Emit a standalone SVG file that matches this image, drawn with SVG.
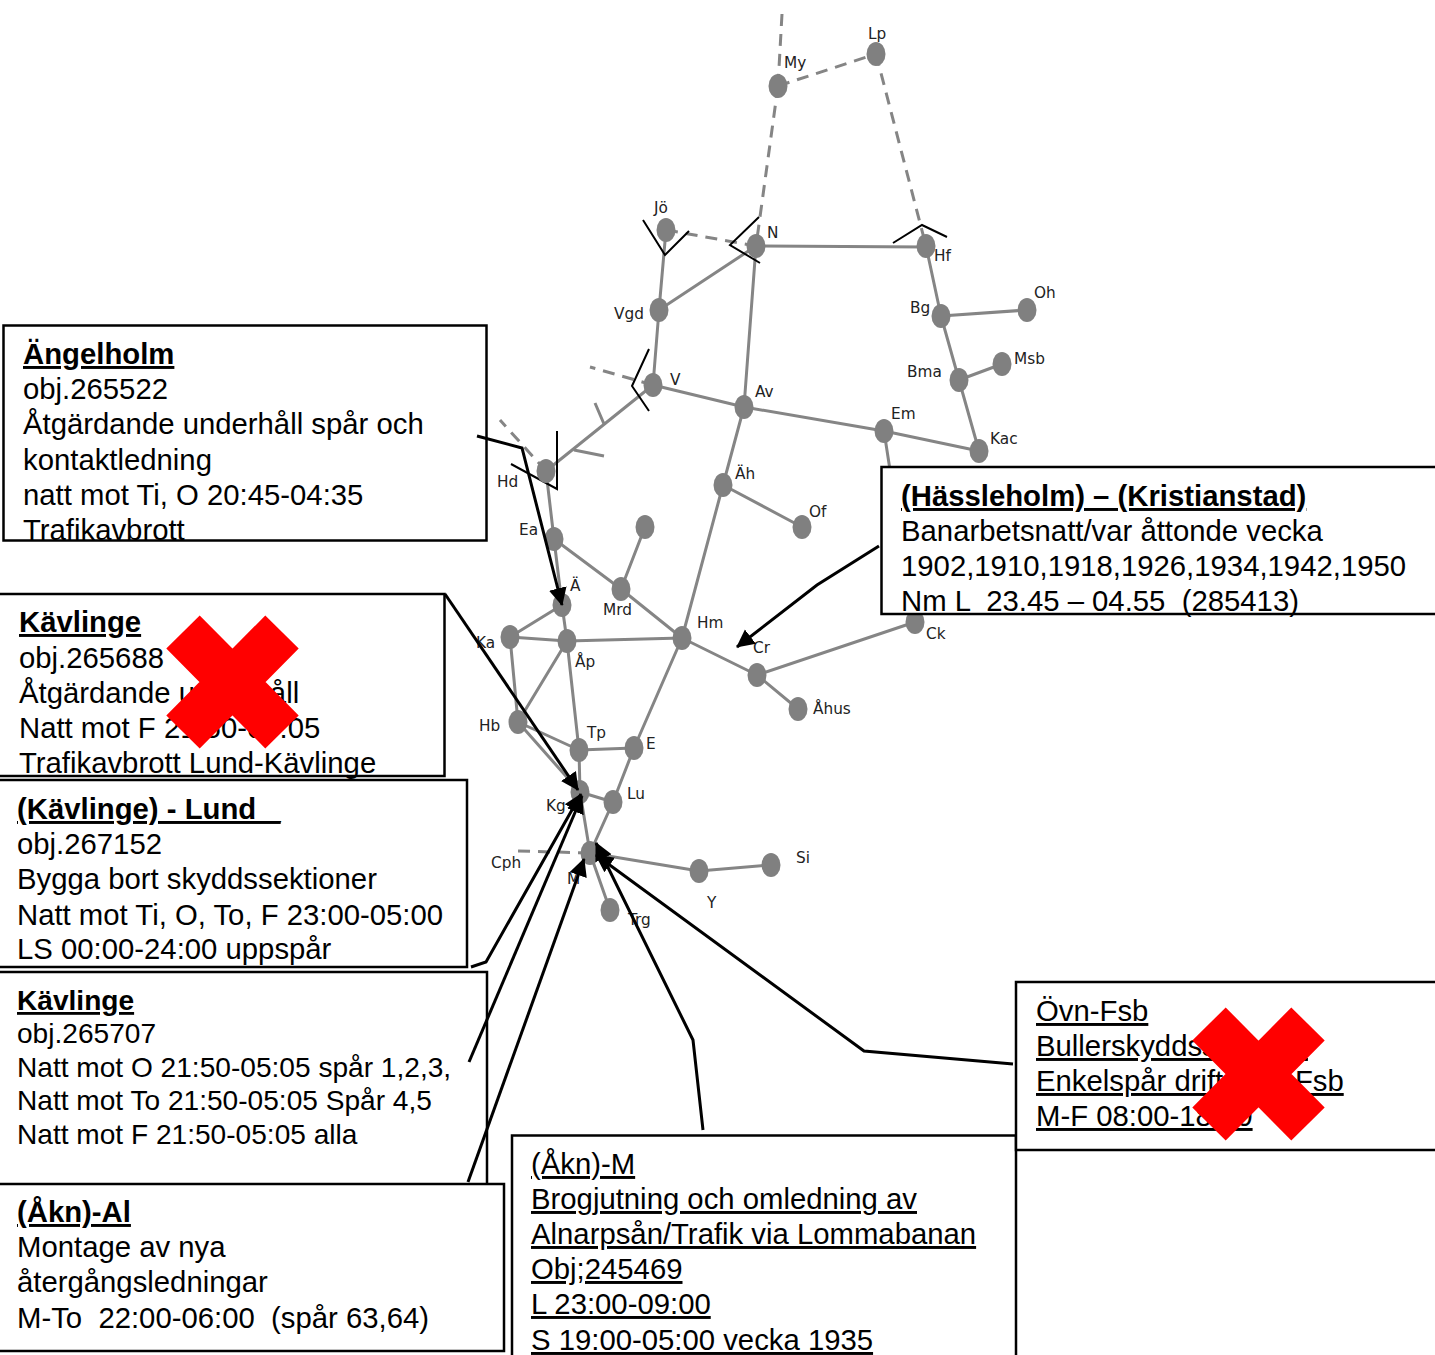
<svg xmlns="http://www.w3.org/2000/svg" width="1435" height="1355" viewBox="0 0 1435 1355">
<style>
.e{stroke:#858585;stroke-width:3;fill:none}
.d{stroke:#858585;stroke-width:3;fill:none;stroke-dasharray:12 8}
.k{stroke:#000;stroke-width:2;fill:none}
.a{stroke:#000;stroke-width:3;fill:none;marker-end:url(#ah)}
.n{fill:#808080}
.l{font:15.300px "DejaVu Sans",sans-serif;fill:#222}
.b{fill:#fff;stroke:#000;stroke-width:2.500}
.t{font:29.300px "Liberation Sans",Arial,sans-serif;fill:#000;white-space:pre}
.s{font-size:28.100px}
.h{font-weight:bold;text-decoration:underline}
.u{text-decoration:underline}
.x{stroke:#f00;stroke-width:47;fill:none}
</style>
<defs><marker id="ah" markerUnits="userSpaceOnUse" markerWidth="22" markerHeight="22" refX="17" refY="10" orient="auto"><path d="M0 1L18 10L0 19z" fill="#000"/></marker></defs>
<rect width="1435" height="1355" fill="#fff"/>
<g id="connectors">
<path class="d" d="M782 14L778 86M778 86L876 54M778 86L756 246M876 54L926 246M666 230L756 246M653 385L590 367M546 471L500 420M590 853L517 851"/>
<path class="e" d="M756 246L926 247M666 230L659 310M659 310L756 246M756 246L744 407M926 246L941 316M941 316L1027 310M941 316L959 380M959 380L1002 364M959 380L979 451M653 385L744 407M744 407L884 431M884 431L979 451M884 431L890 470M653 385L546 471M653 385L659 310M595 403L604 424M574 450L604 456M744 407L723 485M723 485L802 527M723 485L682 638M546 471L554 539M554 539L562 605M554 539L621 589M621 589L645 527M621 589L682 638M562 605L510 637M562 605L567 641M510 637L567 641M567 641L682 638M510 637L518 722M567 641L518 722M567 641L579 750M682 638L757 675M757 675L798 709M757 675L915 622M682 638L634 748M518 722L579 750M518 722L580 792M579 750L634 748M579 750L580 792M634 748L613 802M580 792L613 802M580 792L590 853M613 802L590 853M590 853L699 871M699 871L771 865M590 853L610 910"/>
<path class="k" d="M643 220L665 255L689 231M759 217L730 245L760 263M893 243L922 225L947 237M649 349L632 386L649 411M557 431L557 489L511 464"/>
</g>
<g id="nodes">
<g id="n-My"><ellipse class="n" cx="778" cy="86" rx="9.500" ry="12"/><text class="l" x="784" y="68">My</text></g>
<g id="n-Lp"><ellipse class="n" cx="876" cy="54" rx="9.500" ry="12"/><text class="l" x="868" y="39">Lp</text></g>
<g id="n-Jo"><ellipse class="n" cx="666" cy="230" rx="9.500" ry="12"/><text class="l" x="654" y="213">Jö</text></g>
<g id="n-N"><ellipse class="n" cx="756" cy="246" rx="9.500" ry="12"/><text class="l" x="767" y="238">N</text></g>
<g id="n-Hf"><ellipse class="n" cx="926" cy="246" rx="9.500" ry="12"/><text class="l" x="934" y="261">Hf</text></g>
<g id="n-Vgd"><ellipse class="n" cx="659" cy="310" rx="9.500" ry="12"/><text class="l" x="614" y="319">Vgd</text></g>
<g id="n-Bg"><ellipse class="n" cx="941" cy="316" rx="9.500" ry="12"/><text class="l" x="910" y="313">Bg</text></g>
<g id="n-Oh"><ellipse class="n" cx="1027" cy="310" rx="9.500" ry="12"/><text class="l" x="1034" y="298">Oh</text></g>
<g id="n-Msb"><ellipse class="n" cx="1002" cy="364" rx="9.500" ry="12"/><text class="l" x="1014" y="364">Msb</text></g>
<g id="n-Bma"><ellipse class="n" cx="959" cy="380" rx="9.500" ry="12"/><text class="l" x="907" y="377">Bma</text></g>
<g id="n-V"><ellipse class="n" cx="653" cy="385" rx="9.500" ry="12"/><text class="l" x="670" y="385">V</text></g>
<g id="n-Av"><ellipse class="n" cx="744" cy="407" rx="9.500" ry="12"/><text class="l" x="755" y="397">Av</text></g>
<g id="n-Em"><ellipse class="n" cx="884" cy="431" rx="9.500" ry="12"/><text class="l" x="891" y="419">Em</text></g>
<g id="n-Kac"><ellipse class="n" cx="979" cy="451" rx="9.500" ry="12"/><text class="l" x="990" y="444">Kac</text></g>
<g id="n-Hd"><ellipse class="n" cx="546" cy="471" rx="9.500" ry="12"/><text class="l" x="497" y="487">Hd</text></g>
<g id="n-Ah"><ellipse class="n" cx="723" cy="485" rx="9.500" ry="12"/><text class="l" x="735" y="479">Äh</text></g>
<g id="n-Of"><ellipse class="n" cx="802" cy="527" rx="9.500" ry="12"/><text class="l" x="809" y="517">Of</text></g>
<g id="n-Ea"><ellipse class="n" cx="554" cy="539" rx="9.500" ry="12"/><text class="l" x="519" y="535">Ea</text></g>
<g id="n-x"><ellipse class="n" cx="645" cy="527" rx="9.500" ry="12"/></g>
<g id="n-Mrd"><ellipse class="n" cx="621" cy="589" rx="9.500" ry="12"/><text class="l" x="603" y="615">Mrd</text></g>
<g id="n-A"><ellipse class="n" cx="562" cy="605" rx="9.500" ry="12"/><text class="l" x="570" y="591">Ä</text></g>
<g id="n-Ka"><ellipse class="n" cx="510" cy="637" rx="9.500" ry="12"/><text class="l" x="476" y="648">Ka</text></g>
<g id="n-Ap"><ellipse class="n" cx="567" cy="641" rx="9.500" ry="12"/><text class="l" x="575" y="667">Åp</text></g>
<g id="n-Hm"><ellipse class="n" cx="682" cy="638" rx="9.500" ry="12"/><text class="l" x="697" y="628">Hm</text></g>
<g id="n-Cr"><ellipse class="n" cx="757" cy="675" rx="9.500" ry="12"/><text class="l" x="753" y="653">Cr</text></g>
<g id="n-Ck"><ellipse class="n" cx="915" cy="622" rx="9.500" ry="12"/><text class="l" x="926" y="639">Ck</text></g>
<g id="n-Ahus"><ellipse class="n" cx="798" cy="709" rx="9.500" ry="12"/><text class="l" x="813" y="714">Åhus</text></g>
<g id="n-Hb"><ellipse class="n" cx="518" cy="722" rx="9.500" ry="12"/><text class="l" x="479" y="731">Hb</text></g>
<g id="n-Tp"><ellipse class="n" cx="579" cy="750" rx="9.500" ry="12"/><text class="l" x="587" y="738">Tp</text></g>
<g id="n-E"><ellipse class="n" cx="634" cy="748" rx="9.500" ry="12"/><text class="l" x="646" y="749">E</text></g>
<g id="n-Kg"><ellipse class="n" cx="580" cy="792" rx="9.500" ry="12"/><text class="l" x="546" y="811">Kg</text></g>
<g id="n-Lu"><ellipse class="n" cx="613" cy="802" rx="9.500" ry="12"/><text class="l" x="627" y="799">Lu</text></g>
<g id="n-M"><ellipse class="n" cx="590" cy="853" rx="9.500" ry="12"/><text class="l" x="567" y="884">M</text></g>
<g id="n-Cph"><text class="l" x="491" y="868">Cph</text></g>
<g id="n-Y"><ellipse class="n" cx="699" cy="871" rx="9.500" ry="12"/><text class="l" x="707" y="908">Y</text></g>
<g id="n-Si"><ellipse class="n" cx="771" cy="865" rx="9.500" ry="12"/><text class="l" x="796" y="863">Si</text></g>
<g id="n-Trg"><ellipse class="n" cx="610" cy="910" rx="9.500" ry="12"/><text class="l" x="628" y="925">Trg</text></g>
</g>
<g id="box-angelholm"><rect class="b" x="3.500" y="325.500" width="483" height="215"/>
<text class="t"><tspan class="h" x="23" y="364">Ängelholm</tspan><tspan x="23" y="399">obj.265522</tspan><tspan x="23" y="434">Åtgärdande underhåll spår och</tspan><tspan x="23" y="470">kontaktledning</tspan><tspan x="23" y="505">natt mot Ti, O 20:45-04:35</tspan><tspan x="23" y="540">Trafikavbrott</tspan></text></g>
<g id="box-hassleholm"><rect class="b" x="881.500" y="467" width="560" height="147"/>
<text class="t"><tspan class="h" x="901" y="506">(Hässleholm) – (Kristianstad)</tspan><tspan x="901" y="541">Banarbetsnatt/var åttonde vecka</tspan><tspan x="901" y="576">1902,1910,1918,1926,1934,1942,1950</tspan><tspan x="901" y="611">Nm L  23.45 – 04.55  (285413)</tspan></text></g>
<g id="box-kavlinge1"><rect class="b" x="-3" y="594" width="447.500" height="182"/>
<text class="t"><tspan class="h" x="19" y="632">Kävlinge</tspan><tspan x="19" y="668">obj.265688</tspan><tspan x="19" y="703">Åtgärdande underhåll</tspan><tspan x="19" y="738">Natt mot F 21:50-05:05</tspan><tspan x="19" y="773">Trafikavbrott Lund-Kävlinge</tspan></text>
<path class="x" d="M183 632L282 732M282 632L183 732"/></g>
<g id="box-lund"><rect class="b" x="-3" y="780" width="470" height="187"/>
<text class="t"><tspan class="h" x="17" y="819">(Kävlinge) - Lund _</tspan><tspan x="17" y="854">obj.267152</tspan><tspan x="17" y="889">Bygga bort skyddssektioner</tspan><tspan x="17" y="925">Natt mot Ti, O, To, F 23:00-05:00</tspan><tspan x="17" y="959">LS 00:00-24:00 uppspår</tspan></text></g>
<g id="box-kavlinge2"><rect class="b" x="-3" y="972" width="490" height="215"/>
<text class="t s"><tspan class="h" x="17" y="1010">Kävlinge</tspan><tspan x="17" y="1043">obj.265707</tspan><tspan x="17" y="1077">Natt mot O 21:50-05:05 spår 1,2,3,</tspan><tspan x="17" y="1110">Natt mot To 21:50-05:05 Spår 4,5</tspan><tspan x="17" y="1144">Natt mot F 21:50-05:05 alla</tspan></text></g>
<g id="box-al"><rect class="b" x="-3" y="1184" width="507" height="167"/>
<text class="t"><tspan class="h" x="17" y="1222">(Åkn)-Al</tspan><tspan x="17" y="1257">Montage av nya</tspan><tspan x="17" y="1292">återgångsledningar</tspan><tspan x="17" y="1328">M-To  22:00-06:00  (spår 63,64)</tspan></text></g>
<g id="box-m"><rect class="b" x="512" y="1135.500" width="504" height="235"/>
<text class="t u"><tspan x="531" y="1174">(Åkn)-M</tspan><tspan x="531" y="1209">Brogjutning och omledning av</tspan><tspan x="531" y="1244">Alnarpsån/Trafik via Lommabanan</tspan><tspan x="531" y="1279">Obj;245469</tspan><tspan x="531" y="1314">L 23:00-09:00</tspan><tspan x="531" y="1350">S 19:00-05:00 vecka 1935</tspan></text></g>
<g id="box-ovn"><rect class="b" x="1016" y="982" width="430" height="168"/>
<text class="t u"><tspan x="1036" y="1021">Övn-Fsb</tspan><tspan x="1036" y="1056">Bullerskyddsskärmar</tspan><tspan x="1036" y="1091">Enkelspår drift Övn-Fsb</tspan><tspan x="1036" y="1126">M-F 08:00-18:00</tspan></text>
<path class="x" d="M1209 1024L1308 1124M1308 1024L1209 1124"/></g>
<g id="arrows">
<path class="a" d="M477 436L522 448L562 605"/>
<path class="a" d="M879 546L817 585L737 647"/>
<path class="a" d="M445 594L578 790"/>
<path class="a" d="M471 967L486 962L581 794"/>
<path class="a" d="M469 1062L582 796"/>
<path class="a" d="M468 1182L584 859"/>
<path class="a" d="M703 1130L693 1040L596 843"/>
<path class="a" d="M1013 1064L864 1051L596 855"/>
</g>
</svg>
